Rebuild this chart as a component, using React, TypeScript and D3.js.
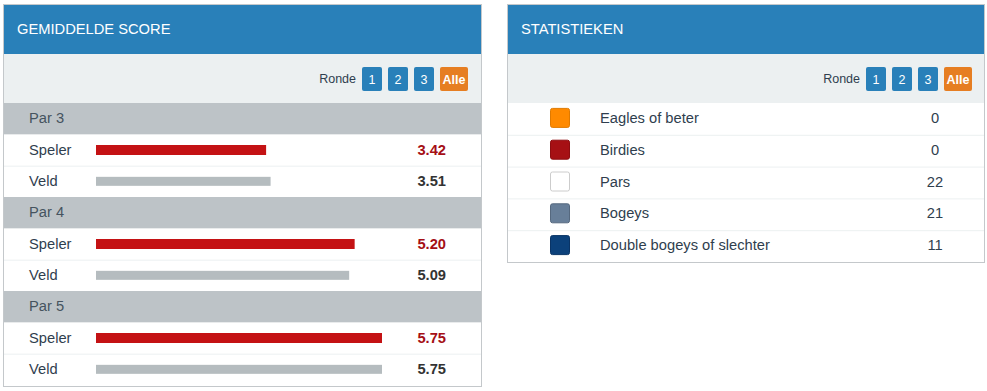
import React from 'react';
import * as d3 from 'd3';

const groups = ['Par 3', 'Par 4', 'Par 5'];
const speler = [3.42, 5.2, 5.75];
const veld = [3.51, 5.09, 5.75];
const rounds = ['1', '2', '3', 'Alle'];

const statLabels = ['Eagles of beter', 'Birdies', 'Pars', 'Bogeys', 'Double bogeys of slechter'];
const statValues = [0, 0, 22, 21, 11];
const statColors = ['#ff8a00', '#a61014', '#ffffff', '#687f99', '#0c417b'];
const statBorders = ['#e07a00', '#8e0d10', '#cccccc', '#56697f', '#0a3466'];

const FONT = '"Liberation Sans", Arial, sans-serif';
const BLUE = '#2980b9';
const TEXT = '#2f3e4e';
const FS = 14.7;

type Row = { kind: 'group' | 'speler' | 'veld'; label: string; value?: number };

const rows: Row[] = [];
groups.forEach((g, i) => {
  rows.push({ kind: 'group', label: g });
  rows.push({ kind: 'speler', label: 'Speler', value: speler[i] });
  rows.push({ kind: 'veld', label: 'Veld', value: veld[i] });
});

const Toolbar = ({ right, y }: { right: number; y: number }) => {
  const widths = [20, 20, 20, 28];
  const gap = 6;
  const total = d3.sum(widths) + gap * (widths.length - 1);
  let x = right - total;
  const btns = widths.map((w, i) => {
    const b = { x, w, label: rounds[i] };
    x += w + gap;
    return b;
  });
  return (
    <g>
      <text x={right - total - 6} y={y + 4} textAnchor="end" fontSize={12.5} fill={TEXT} fontFamily={FONT}>Ronde</text>
      {btns.map((b, i) => (
        <g key={i}>
          <rect x={b.x} y={y - 12} width={b.w} height={24} rx={2} fill={b.label === 'Alle' ? '#e67e22' : BLUE} />
          <text x={b.x + b.w / 2} y={y + 5} textAnchor="middle" fontSize={12.5} fill="#fff" fontFamily={FONT} fontWeight={b.label === 'Alle' ? 'bold' : 'normal'}>{b.label}</text>
        </g>
      ))}
    </g>
  );
};

const Panel = ({ x0, x1, bottom, title }: { x0: number; x1: number; bottom: number; title: string }) => (
  <g>
    <rect x={x0 + 0.5} y={4.5} width={x1 - x0 - 1} height={bottom - 4} fill="#fff" stroke="#c4c8cb" />
    <rect x={x0 + 1} y={5} width={x1 - x0 - 2} height={49} fill={BLUE} />
    <rect x={x0 + 1} y={54} width={x1 - x0 - 2} height={49} fill="#ecf0f1" />
    <text x={x0 + 14} y={34} fontSize={FS} fill="#fff" fontFamily={FONT}>{title}</text>
  </g>
);

export default function App() {
  const L = { x0: 3, x1: 482 };
  const R = { x0: 507, x1: 985 };

  const yRow = d3.scaleBand<number>().domain(d3.range(rows.length)).range([103, 385]);
  const xBar = d3.scaleLinear().domain([0, d3.max([...speler, ...veld]) as number]).range([96, 382]);

  const yStat = d3.scaleBand<number>().domain(d3.range(statLabels.length)).range([103, 262]);

  return (
    <svg width={987} height={391} style={{ position: 'absolute', left: 0, top: 0, background: '#fff' }}>
      {/* Left panel */}
      <Panel x0={L.x0} x1={L.x1} bottom={386} title="GEMIDDELDE SCORE" />
      <Toolbar right={468} y={79} />
      {rows.map((r, i) => {
        const y = yRow(i) as number;
        const h = yRow.bandwidth();
        const cy = y + h / 2;
        if (r.kind === 'group') {
          return (
            <g key={i}>
              <rect x={L.x0 + 1} y={y} width={L.x1 - L.x0 - 2} height={h} fill="#bdc3c7" />
              <text x={29} y={cy + 4} fontSize={FS} fill="#45535f" fontFamily={FONT}>{r.label}</text>
            </g>
          );
        }
        const sp = r.kind === 'speler';
        return (
          <g key={i}>
            {r.kind === 'veld' && <line x1={L.x0 + 1} x2={L.x1 - 1} y1={y + 0.5} y2={y + 0.5} stroke="#ecf0f1" />}
            <text x={29} y={cy + 4.5} fontSize={FS} fill={TEXT} fontFamily={FONT}>{r.label}</text>
            <rect x={xBar(0)} y={cy - (sp ? 5 : 4.5)} width={xBar(r.value!) - xBar(0)} height={sp ? 10 : 9} fill={sp ? '#c41214' : '#b5bcbf'} />
            <text x={446} y={cy + 5} textAnchor="end" fontSize={FS} fontWeight="bold" fill={sp ? '#a50f15' : '#333'} fontFamily={FONT}>{d3.format('.2f')(r.value!)}</text>
          </g>
        );
      })}

      {/* Right panel */}
      <Panel x0={R.x0} x1={R.x1} bottom={262} title="STATISTIEKEN" />
      <Toolbar right={972} y={79} />
      {statLabels.map((lab, i) => {
        const y = yStat(i) as number;
        const h = yStat.bandwidth();
        const cy = y + h / 2;
        return (
          <g key={i}>
            {i > 0 && <line x1={R.x0 + 1} x2={R.x1 - 1} y1={y + 0.5} y2={y + 0.5} stroke="#ecf0f1" />}
            <rect x={550.5} y={cy - 10.5} width={19} height={19} rx={2} fill={statColors[i]} stroke={statBorders[i]} />
            <text x={600} y={cy + 4} fontSize={FS} fill={TEXT} fontFamily={FONT}>{lab}</text>
            <text x={935} y={cy + 4} textAnchor="middle" fontSize={FS} fill={TEXT} fontFamily={FONT}>{statValues[i]}</text>
          </g>
        );
      })}
    </svg>
  );
}
